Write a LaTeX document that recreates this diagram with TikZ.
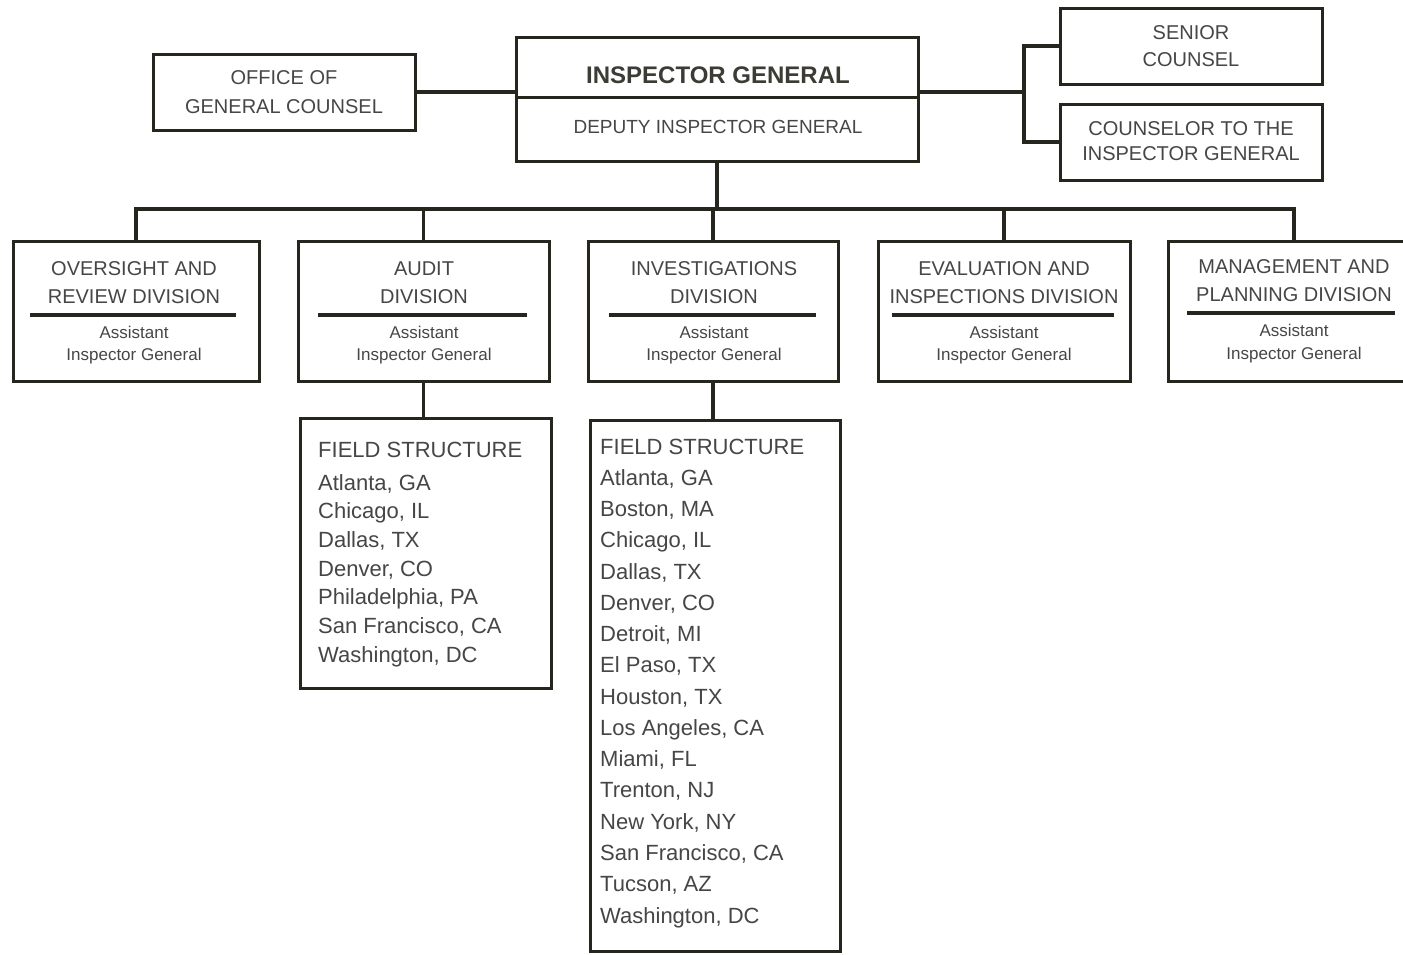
\documentclass[tikz,border=0pt]{standalone}
\usepackage{fontspec}
\setmainfont{Liberation Sans}
\definecolor{ink}{RGB}{38,38,30}
\definecolor{txt}{RGB}{70,70,70}
\begin{document}
\begin{tikzpicture}[x=1pt,y=-1pt,
  box/.style={draw=ink,line width=3pt,rectangle,inner sep=0pt,fill=white},
  conn/.style={draw=ink,line width=3.6pt},
  rule/.style={draw=ink,line width=3.4pt},
  capt/.style={text=txt,inner sep=0pt,anchor=base,font=\fontsize{20}{24}\selectfont},
  small/.style={text=txt,inner sep=0pt,anchor=base,font=\fontsize{17}{20}\selectfont},
  listt/.style={text=txt,inner sep=0pt,anchor=base west,font=\fontsize{22}{26}\selectfont}]
\clip (0,0) rectangle (1403,954);
\fill[white] (0,0) rectangle (1403,954);

% top level boxes
\node[box,minimum width=262pt,minimum height=76pt] (ogc) at (284,92) {};
\node[box,minimum width=402pt,minimum height=124pt] (ig) at (717,99) {};
\node[box,minimum width=262pt,minimum height=76pt] (sc) at (1191,46) {};
\node[box,minimum width=262pt,minimum height=76pt] (cig) at (1191,142) {};
\draw[draw=ink,line width=3pt] (ig.west |- 0,97) -- (ig.east |- 0,97);

\node[capt] (ogc1) at (284,84) {OFFICE OF};
\node[capt] (ogc2) at (284,113) {GENERAL COUNSEL};
\node[text=ink!90,inner sep=0pt,anchor=base,font=\bfseries\fontsize{24}{28}\selectfont] (igt) at (718,83.6) {INSPECTOR GENERAL};
\node[text=txt,inner sep=0pt,anchor=base,font=\fontsize{19}{22}\selectfont] (dig) at (718,133.8) {DEPUTY INSPECTOR GENERAL};
\node[capt] (sc1) at (1191,39) {SENIOR};
\node[capt] (sc2) at (1191,66) {COUNSEL};
\node[capt] (cig1) at (1191,135) {COUNSELOR TO THE};
\node[capt] (cig2) at (1191,160) {INSPECTOR GENERAL};

% division boxes
\node[box,minimum width=246pt,minimum height=140pt] (ord) at (136,311) {};
\node[box,minimum width=251pt,minimum height=140pt] (aud) at (423.5,311) {};
\node[box,minimum width=250pt,minimum height=140pt] (inv) at (713,311) {};
\node[box,minimum width=252pt,minimum height=140pt] (evl) at (1004,311) {};
\node[box,minimum width=252pt,minimum height=140pt] (mgt) at (1294,311) {};

\draw[rule] (30,315) -- (236,315);
\draw[rule] (318,315) -- (527,315);
\draw[rule] (609,315) -- (816,315);
\draw[rule] (892,315) -- (1114,315);
\draw[rule] (1187,313) -- (1395,313);

\node[capt] (ord1) at (134,275) {OVERSIGHT AND};
\node[capt] (ord2) at (134,303) {REVIEW DIVISION};
\node[small] (ord3) at (134,338) {Assistant};
\node[small] (ord4) at (134,360) {Inspector General};

\node[capt] (aud1) at (424,275) {AUDIT};
\node[capt] (aud2) at (424,303) {DIVISION};
\node[small] (aud3) at (424,338) {Assistant};
\node[small] (aud4) at (424,360) {Inspector General};

\node[capt] (inv1) at (714,275) {INVESTIGATIONS};
\node[capt] (inv2) at (714,303) {DIVISION};
\node[small] (inv3) at (714,338) {Assistant};
\node[small] (inv4) at (714,360) {Inspector General};

\node[capt] (evl1) at (1004,275) {EVALUATION AND};
\node[capt] (evl2) at (1004,303) {INSPECTIONS DIVISION};
\node[small] (evl3) at (1004,338) {Assistant};
\node[small] (evl4) at (1004,360) {Inspector General};

\node[capt] (mgt1) at (1294,273) {MANAGEMENT AND};
\node[capt] (mgt2) at (1294,301) {PLANNING DIVISION};
\node[small] (mgt3) at (1294,336) {Assistant};
\node[small] (mgt4) at (1294,359) {Inspector General};

% field structure boxes
\node[box,minimum width=251pt,minimum height=270pt] (afs) at (425.5,553) {};
\node[box,minimum width=250pt,minimum height=531pt] (ifs) at (715,685.5) {};

\node[listt] (a0) at (318,457) {FIELD STRUCTURE};
\foreach \t [count=\i from 1] in {{Atlanta, GA},{Chicago, IL},{Dallas, TX},{Denver, CO},{Philadelphia, PA},{San Francisco, CA},{Washington, DC}}
  \node[listt] (a\i) at (318,{490+28.67*(\i-1)}) {\t};

\node[listt] (i0) at (600,454) {FIELD STRUCTURE};
\foreach \t [count=\i from 1] in {{Atlanta, GA},{Boston, MA},{Chicago, IL},{Dallas, TX},{Denver, CO},{Detroit, MI},{El Paso, TX},{Houston, TX},{Los Angeles, CA},{Miami, FL},{Trenton, NJ},{New York, NY},{San Francisco, CA},{Tucson, AZ},{Washington, DC}}
  \node[listt] (i\i) at (600,{454+31.27*\i}) {\t};

% connectors
\coordinate (lj) at (415,92);
\coordinate (rj) at (1024,92);
\coordinate (bus) at (0,209);
\draw[conn] (ogc.east |- lj) -- (lj -| ig.west);
\draw[conn] (ig.east |- rj) -- (rj);
\draw[conn] (sc.west) -| (rj) |- (cig.west);
\draw[conn] (ig.south) -- (ig.south |- bus);
\draw[conn] (ord.north) -- (ord.north |- bus) -- (mgt.north |- bus) -- (mgt.north);
\draw[conn] (aud.north) -- (aud.north |- bus);
\draw[conn] (inv.north) -- (inv.north |- bus);
\draw[conn] (evl.north) -- (evl.north |- bus);
\draw[conn] (aud.south) -- (aud.south |- afs.north);
\draw[conn] (inv.south) -- (inv.south |- ifs.north);
\end{tikzpicture}
\end{document}
